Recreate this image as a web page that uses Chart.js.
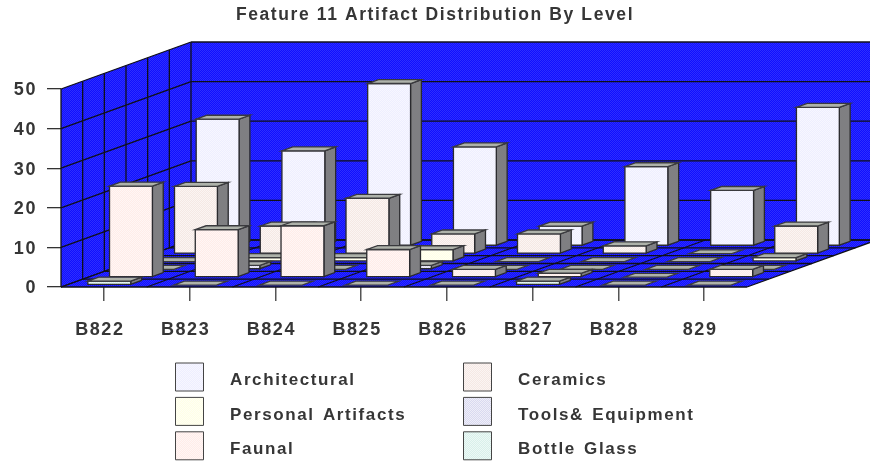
<!DOCTYPE html>
<html>
<head>
<meta charset="utf-8">
<title>Feature 11 Artifact Distribution By Level</title>
<style>
html, body { margin: 0; padding: 0; background: #fff; }
#wrap { position: relative; width: 870px; height: 463px; }
</style>
<script src="https://cdn.jsdelivr.net/npm/chart.js@4/dist/chart.umd.min.js"></script>
</head>
<body>
<div id="wrap"><canvas id="myChart" width="870" height="463"></canvas></div>
<script>
var titleText = 'Feature 11 Artifact Distribution By Level';
var levels = ['B822', 'B823', 'B824', 'B825', 'B826', 'B827', 'B828', '829'];
var yTicks = [0, 10, 20, 30, 40, 50];

// series go from the back row of the floor to the front row
var architectural = [32, 24, 41, 25, 5, 20, 14, 35];
var ceramics = [17, 7, 14, 5, 5, 2, 0, 7];
var personalArtifacts = [0, 1, 1, 3, 0, 0, 0, 1];
var toolsEquipment = [0, 1, 0, 1, 0, 0, 0, 0];
var faunal = [23, 12, 13, 7, 2, 1, 0, 2];
var bottleGlass = [1, 0, 0, 0, 0, 1, 0, 0];

var seriesNames = ['Architectural', 'Ceramics', 'Personal Artifacts', 'Tools& Equipment', 'Faunal', 'Bottle Glass'];
var seriesValues = [architectural, ceramics, personalArtifacts, toolsEquipment, faunal, bottleGlass];
var seriesColors = ['#eeeeff', '#f5e8e4', '#ffffe6', '#d9d9f0', '#ffece8', '#d8f0ea'];

var depthX = 130, depthY = 47;
var rows = seriesNames.length;
var fontFamily = '"Liberation Sans", Arial, sans-serif';
var inkColor = '#363636';
var lineColor = '#101018';

function dither(c1, c2) {
    var p = document.createElement('canvas');
    p.width = 2;
    p.height = 2;
    var g = p.getContext('2d');
    g.fillStyle = c1;
    g.fillRect(0, 0, 2, 2);
    g.fillStyle = c2;
    g.fillRect(0, 0, 1, 1);
    g.fillRect(1, 1, 1, 1);
    return g.createPattern(p, 'repeat');
}

function poly(ctx, pts, fill, stroke) {
    ctx.beginPath();
    ctx.moveTo(pts[0][0], pts[0][1]);
    for (var i = 1; i < pts.length; i++) {
        ctx.lineTo(pts[i][0], pts[i][1]);
    }
    ctx.closePath();
    if (fill) {
        ctx.fillStyle = fill;
        ctx.fill();
    }
    if (stroke) {
        ctx.strokeStyle = stroke;
        ctx.stroke();
    }
}

function seg(ctx, x1, y1, x2, y2) {
    ctx.beginPath();
    ctx.moveTo(x1, y1);
    ctx.lineTo(x2, y2);
    ctx.stroke();
}

var room = {
    id: 'room',
    beforeDraw: function(chart) {
        chart.ctx.letterSpacing = '1.6px';
        // the title centres on the whole canvas, not on the plot
        chart.titleBlock.left = 0;
        chart.titleBlock.right = chart.width;
    },
    beforeDatasetsDraw: function(chart) {
        var ctx = chart.ctx;
        var xs = chart.scales.x, ys = chart.scales.y;
        var l = xs.left, r = xs.right;
        var y0 = ys.getPixelForValue(0), yTop = ys.getPixelForValue(50);
        var blue = dither('#1010ff', '#2e2eff');

        ctx.save();
        ctx.lineWidth = 1.3;
        // side wall, back wall and floor
        poly(ctx, [[l, y0], [l + depthX, y0 - depthY], [l + depthX, yTop - depthY], [l, yTop]], blue);
        poly(ctx, [[l + depthX, y0 - depthY], [r + depthX, y0 - depthY], [r + depthX, yTop - depthY], [l + depthX, yTop - depthY]], blue);
        poly(ctx, [[l, y0], [r, y0], [r + depthX, y0 - depthY], [l + depthX, y0 - depthY]], blue);

        ctx.strokeStyle = lineColor;
        // value lines run along the side wall and across the back wall
        ys.ticks.forEach(function(t) {
            var y = ys.getPixelForValue(t.value);
            seg(ctx, l, y, l + depthX, y - depthY);
            seg(ctx, l + depthX, y - depthY, r + depthX, y - depthY);
        });
        // row lines on the side wall and floor
        for (var i = 0; i <= rows; i++) {
            var dx = depthX * i / rows, dy = depthY * i / rows;
            seg(ctx, l + dx, y0 - dy, l + dx, yTop - dy);
            seg(ctx, l + dx, y0 - dy, r + dx, y0 - dy);
        }
        // category lines on the floor
        for (var j = 0; j <= levels.length; j++) {
            var x = l + (r - l) * j / levels.length;
            seg(ctx, x, y0, x + depthX, y0 - depthY);
        }
        ctx.restore();
    },
    beforeDatasetDraw: function(chart, args) {
        var ctx = chart.ctx;
        var row = rows - 1 - args.index;
        var stepX = depthX / rows, stepY = depthY / rows;
        var ox = stepX * (row + 0.25), oy = stepY * (row + 0.25);
        var dx = stepX * 0.5, dy = stepY * 0.5;
        var face = dither(seriesColors[args.index], 'rgba(255,255,255,0.55)');

        ctx.save();
        ctx.lineWidth = 1.3;
        args.meta.data.forEach(function(bar) {
            var x1 = bar.x - bar.width / 2 + ox, x2 = bar.x + bar.width / 2 + ox;
            var top = bar.y - oy, base = bar.base - oy;
            if (top < base) {
                poly(ctx, [[x2, top], [x2 + dx, top - dy], [x2 + dx, base - dy], [x2, base]], '#7f7f82', '#2a2a2e');
                poly(ctx, [[x1, top], [x2, top], [x2, base], [x1, base]], face, '#2a2a2e');
            }
            poly(ctx, [[x1, top], [x2, top], [x2 + dx, top - dy], [x1 + dx, top - dy]], '#aeb2aa', '#3a3a3e');
        });
        ctx.restore();
        return false;
    },
    afterDraw: function(chart) {
        var ctx = chart.ctx;
        ctx.save();
        ctx.font = 'bold 17px ' + fontFamily;
        ctx.textBaseline = 'middle';
        ctx.letterSpacing = '1.6px';
        ctx.wordSpacing = '2px';
        seriesNames.forEach(function(name, i) {
            var col = i % 2, line = Math.floor(i / 2);
            var bx = 175.5 + col * 288, by = 363 + line * 34.4;
            ctx.lineWidth = 1;
            poly(ctx, [[bx, by], [bx + 28, by], [bx + 28, by + 28], [bx, by + 28]], dither(seriesColors[i], 'rgba(255,255,255,0.55)'), '#444');
            ctx.fillStyle = inkColor;
            ctx.fillText(name, 230 + col * 288, by + 17.5);
        });
        ctx.restore();
    }
};

var datasets = seriesNames.map(function(name, i) {
    return {
        label: name,
        data: seriesValues[i],
        order: rows - i,
        backgroundColor: seriesColors[i]
    };
});

var myChart = new Chart(document.getElementById('myChart').getContext('2d'), {
    type: 'bar',
    data: { labels: levels, datasets: datasets },
    options: {
        responsive: false,
        animation: false,
        grouped: false,
        barPercentage: 0.5,
        categoryPercentage: 1,
        layout: { padding: { left: 0, right: 123, top: 0, bottom: 0 } },
        plugins: {
            legend: { display: false },
            tooltip: { enabled: false },
            title: {
                display: true,
                text: titleText,
                color: inkColor,
                font: { family: fontFamily, size: 17.5, weight: 'bold', lineHeight: 1.2 },
                padding: { top: 5, bottom: 63 }
            }
        },
        scales: {
            x: {
                grid: { display: true, offset: false, drawOnChartArea: false, color: '#555', lineWidth: 1.5, tickLength: 14 },
                border: { display: false },
                ticks: { color: inkColor, font: { family: fontFamily, size: 18, weight: 'bold' }, padding: 18, labelOffset: -4, maxRotation: 0 },
                afterFit: function(s) { s.height = 176; }
            },
            y: {
                min: 0,
                max: 50,
                afterBuildTicks: function(s) { s.ticks = yTicks.map(function(v) { return { value: v }; }); },
                grid: { display: true, drawOnChartArea: false, color: '#333', lineWidth: 1.3, tickLength: 14 },
                border: { display: false },
                ticks: { color: inkColor, font: { family: fontFamily, size: 18, weight: 'bold' }, padding: 10, labelOffset: 1.5 },
                afterFit: function(s) { s.width = 61; }
            }
        }
    },
    plugins: [room]
});
</script>
</body>
</html>
